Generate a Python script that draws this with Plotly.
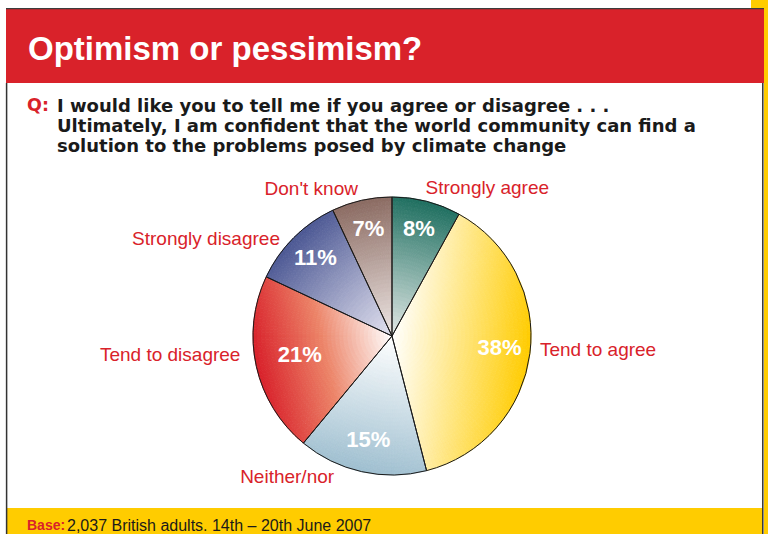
import numpy as np
import plotly.graph_objects as go

W, H = 768, 534

# ---- data -----------------------------------------------------------------
categories = ["Strongly agree", "Tend to agree", "Neither/nor",
              "Tend to disagree", "Strongly disagree", "Don't know"]
percents = [8, 38, 15, 21, 11, 7]
pct_labels = [f"{v}%" for v in percents]

title_text = "Optimism or pessimism?"
question_lines = [
    "I would like you to tell me if you agree or disagree . . .",
    "Ultimately, I am confident that the world community can find a",
    "solution to the problems posed by climate change",
]
base_text = "2,037 British adults. 14th \u2013 20th June 2007"

# ---- styling --------------------------------------------------------------
# three-stop shading per slice: centre -> middle -> outer edge
centre_colors = ["#E3E9E7", "#FFFFFF", "#FFFFFF", "#FFFFFF", "#E4E3F0", "#EEE7E5"]
middle_colors = [None, None, None, "#EC8468", None, None]
edge_colors = ["#1F6F60", "#FFCC00", "#9FBFD0", "#D8202A", "#4B5793", "#8B6B62"]
RED = "#D9222A"
YELLOW = "#FFCC00"
FONT = "Liberation Sans, Arial, Helvetica, sans-serif"
WIDE_FONT = "DejaVu Sans, Liberation Sans, Arial, sans-serif"

pct_radius = [0.78, 0.78, 0.78, 0.68, 0.78, 0.78]
label_radius = [1.08, 1.07, 1.04, 1.10, 1.06, 1.08]
label_nudge = [-1.5, -1.5, 11, 5, -4.5, -0.5]
label_pos = ["middle right", "middle right", "bottom left",
             "middle left", "middle left", "middle left"]

R_MAX = 1.25          # radial axis range; pie radius is 1
PIE_PX = 139          # pie radius in pixels
CX, CY = 392, 336     # pie centre in pixels


def hex_rgb(h):
    h = h.lstrip("#")
    return np.array([int(h[i:i + 2], 16) for i in (0, 2, 4)], dtype=float)


def shade(i, t):
    c0 = hex_rgb(centre_colors[i])
    c2 = hex_rgb(edge_colors[i])
    if middle_colors[i] is None:
        c = c0 + (c2 - c0) * t
    else:
        c1 = hex_rgb(middle_colors[i])
        c = c0 + (c1 - c0) * (t / 0.5) if t < 0.5 else c1 + (c2 - c1) * ((t - 0.5) / 0.5)
    return "rgb(%d,%d,%d)" % tuple(np.round(c).astype(int))


cum = np.concatenate([[0], np.cumsum(percents)]) * 3.6
starts, ends = cum[:-1], cum[1:]
mids = (starts + ends) / 2
spans = ends - starts

# ---- shaded wedges: each slice is tiled with small polar cells, shaded by
#      the distance along the slice's bisector (light centre -> full colour)
N_R = 34
STEP = 1.5
th_l, w_l, b_l, r_l, c_l = [], [], [], [], []
for i in range(len(percents)):
    n_a = max(3, int(np.ceil(spans[i] / STEP)))
    da = spans[i] / n_a
    for k in range(n_a):
        th = starts[i] + (k + 0.5) * da
        for j in range(N_R):
            r0, r1 = j / N_R, (j + 1) / N_R
            rm = (r0 + r1) / 2
            t = float(np.clip(rm * np.cos(np.radians(th - mids[i])), 0, 1))
            th_l.append(th)
            w_l.append(da)
            b_l.append(r0)
            r_l.append(r1 - r0)
            c_l.append(shade(i, t))

fig = go.Figure()

fig.add_trace(go.Barpolar(
    theta=th_l, width=w_l, base=b_l, r=r_l,
    marker=dict(color=c_l, line=dict(width=0.8, color=c_l)),
    hoverinfo="skip", showlegend=False,
))

# slice outlines
fig.add_trace(go.Barpolar(
    theta=mids, width=spans, base=[0] * len(percents), r=[1] * len(percents),
    marker=dict(color="rgba(0,0,0,0)", line=dict(color="#1A1A1A", width=1)),
    hoverinfo="skip", showlegend=False,
))

# percentage labels
fig.add_trace(go.Scatterpolar(
    r=pct_radius, theta=mids, mode="text", text=pct_labels,
    textfont=dict(family=FONT, size=22, color="white", weight="bold"),
    hoverinfo="skip", showlegend=False, cliponaxis=False,
))

# category labels
fig.add_trace(go.Scatterpolar(
    r=label_radius, theta=mids + np.array(label_nudge), mode="text",
    text=categories, textposition=label_pos,
    textfont=dict(family=FONT, size=19, color=RED),
    hoverinfo="skip", showlegend=False, cliponaxis=False,
))

# ---- page furniture -------------------------------------------------------
def fx(x):
    return x / W


def fy(y):
    return 1 - y / H


def rect(x0, y0, x1, y1, color):
    return dict(type="rect", xref="paper", yref="paper", layer="below",
                x0=fx(x0), x1=fx(x1), y0=fy(y1), y1=fy(y0),
                fillcolor=color, line=dict(width=0))


def line(x0, y0, x1, y1, color, width):
    return dict(type="line", xref="paper", yref="paper", layer="below",
                x0=fx(x0), x1=fx(x1), y0=fy(y0), y1=fy(y1),
                line=dict(color=color, width=width))


shapes = [
    rect(751, 0, 768, 10, YELLOW),
    rect(764, 0, 768, 534, YELLOW),
    rect(6, 9, 764, 83, RED),
    rect(6, 508, 763, 534, YELLOW),
    line(6, 8.6, 764, 8.6, "#3C3C3C", 1.2),
    line(6.6, 83, 6.6, 534, "#333333", 1.5),
    line(762.8, 83, 762.8, 534, "#333333", 1.5),
]

annotations = [
    dict(text=f"<b>{title_text}</b>", x=fx(26), y=fy(48),
         font=dict(family=FONT, size=33, color="white")),
    dict(text="<b>Q:</b>", x=fx(25), y=fy(105),
         font=dict(family=WIDE_FONT, size=17.5, color=RED)),
    dict(text="<b>Base:</b>", x=fx(25), y=fy(525),
         font=dict(family=FONT, size=14, color=RED)),
    dict(text=base_text, x=fx(65), y=fy(525),
         font=dict(family=FONT, size=16, color="#1A1A1A")),
]
for k, ln in enumerate(question_lines):
    annotations.append(dict(text=f"<b>{ln}</b>", x=fx(55), y=fy(105 + 20 * k),
                            font=dict(family=WIDE_FONT, size=18,
                                      color="#1A1A1A")))
for a in annotations:
    a.update(xref="paper", yref="paper", xanchor="left", yanchor="middle",
             showarrow=False)

half = PIE_PX * R_MAX
fig.update_layout(
    width=W, height=H,
    margin=dict(l=0, r=0, t=0, b=0),
    paper_bgcolor="white",
    plot_bgcolor="white",
    shapes=shapes,
    annotations=annotations,
    polar=dict(
        domain=dict(x=[(CX - half) / W, (CX + half) / W],
                    y=[(H - CY - half) / H, (H - CY + half) / H]),
        bgcolor="rgba(0,0,0,0)",
        barmode="overlay",
        angularaxis=dict(rotation=90, direction="clockwise", visible=False,
                         showgrid=False),
        radialaxis=dict(range=[0, R_MAX], visible=False, showgrid=False),
    ),
)

fig.write_html("out.html")
